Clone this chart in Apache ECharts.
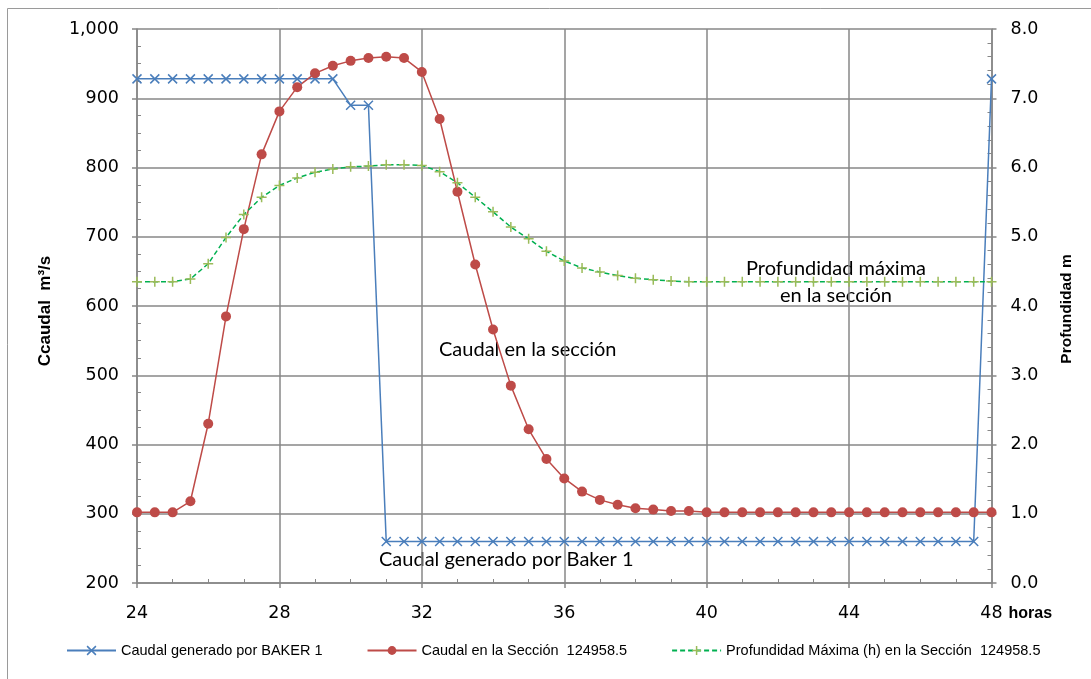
<!DOCTYPE html>
<html><head><meta charset="utf-8">
<script src="https://cdn.jsdelivr.net/npm/echarts@6/dist/echarts.min.js"></script>
<style>html,body{margin:0;padding:0;background:#fff}#c{width:1091px;height:679px}</style>
</head><body><div id="c"></div>
<script>
// ---- data ----
const hours = [24,24.5,25,25.5,26,26.5,27,27.5,28,28.5,29,29.5,30,30.5,31,31.5,32,32.5,33,33.5,34,34.5,35,35.5,36,36.5,37,37.5,38,38.5,39,39.5,40,40.5,41,41.5,42,42.5,43,43.5,44,44.5,45,45.5,46,46.5,47,47.5,48];
const bakerFlow = [928,928,928,928,928,928,928,928,928,928,928,928,890,890,260,260,260,260,260,260,260,260,260,260,260,260,260,260,260,260,260,260,260,260,260,260,260,260,260,260,260,260,260,260,260,260,260,260,928];
const sectionFlow = [302,302,302,318,430,585,711,819,881,916,936,947,954,958,960,958,938,870,765,660,566,485,422,379,351,332,320,313,308,306,304,304,302,302,302,302,302,302,302,302,302,302,302,302,302,302,302,302,302];
const sectionDepth = [4.35,4.35,4.35,4.39,4.61,4.99,5.32,5.57,5.74,5.85,5.93,5.98,6.01,6.02,6.04,6.04,6.03,5.94,5.78,5.57,5.36,5.14,4.97,4.79,4.65,4.55,4.49,4.44,4.40,4.38,4.36,4.35,4.35,4.35,4.35,4.35,4.35,4.35,4.35,4.35,4.35,4.35,4.35,4.35,4.35,4.35,4.35,4.35,4.35];
const seriesNames = ['Caudal generado por BAKER 1','Caudal en la Sección  124958.5','Profundidad Máxima (h) en la Sección  124958.5'];
const xRange = [24, 48, 4];        // min, max, interval (hours)
const flowRange = [200, 1000, 100]; // m3/s
const depthRange = [0, 8, 1];       // m
const annotations = ['Profundidad máxima\nen la sección', 'Caudal en la sección', 'Caudal generado por Baker 1'];

// ---- helpers ----
function fitSize(text, family, weight, target) {
  const ctx = document.createElement('canvas').getContext('2d');
  ctx.font = weight + ' 100px ' + family;
  return Math.round(target * 100 / ctx.measureText(text).width * 10) / 10;
}
const annFont = 'Lato';
const annSize = fitSize('Caudal generado por Baker 1', annFont, 'normal', 254);

const X_PATH = 'path://M0,0L10,10M10,0L0,10';
const PLUS_PATH = 'path://M5,0L5,10M0,5L10,5';
const BLUE = '#4A7EBB', RED = '#BE4B48', GREEN_LINE = '#00B050', GREEN_MK = '#9BBB59';
const GRID = '#878787';
const tickFont = {fontFamily: 'DejaVu Sans', fontSize: 17.5, color: '#000'};

const chart = echarts.init(document.getElementById('c'), null, {renderer: 'canvas'});
chart.setOption({
  animation: false,
  backgroundColor: '#fff',
  grid: {left: 137, top: 29, right: 99.5, bottom: 96},
  xAxis: {
    type: 'value', min: xRange[0], max: xRange[1], interval: xRange[2],
    name: 'horas', nameLocation: 'end', nameGap: 17,
    nameTextStyle: {fontFamily: 'Liberation Sans', fontWeight: 'bold', fontSize: 16, color: '#000', verticalAlign: 'top', padding: [23, 0, 0, 0]},
    axisLine: {show: true, onZero: false, lineStyle: {color: GRID, width: 1.5}},
    axisTick: {show: true, length: 5, lineStyle: {color: GRID, width: 1.5}},
    minorTick: {show: true, splitNumber: 4, length: -4, lineStyle: {color: GRID, width: 1}},
    axisLabel: Object.assign({margin: 21}, tickFont),
    splitLine: {show: true, lineStyle: {color: GRID, width: 1.5}}
  },
  yAxis: [{
    type: 'value', min: flowRange[0], max: flowRange[1], interval: flowRange[2], position: 'left',
    name: 'Ccaudal  m³/s', nameLocation: 'middle', nameGap: 83, nameRotate: 90,
    nameTextStyle: {fontFamily: 'Liberation Sans', fontWeight: 'bold', fontSize: 17, color: '#000', padding: [0, 10, 0, 0]},
    axisLine: {show: true, lineStyle: {color: GRID, width: 1.5}},
    axisTick: {show: true, length: 5, lineStyle: {color: GRID, width: 1.5}},
    minorTick: {show: true, splitNumber: 4, length: -4, lineStyle: {color: GRID, width: 1}},
    axisLabel: Object.assign({margin: 18, formatter: v => v.toLocaleString('en-US')}, tickFont),
    splitLine: {show: true, lineStyle: {color: GRID, width: 1.5}}
  }, {
    type: 'value', min: depthRange[0], max: depthRange[1], interval: depthRange[2], position: 'right',
    name: 'Profundidad m', nameLocation: 'middle', nameGap: 67, nameRotate: 90,
    nameTextStyle: {fontFamily: 'Liberation Sans', fontWeight: 'bold', fontSize: 15.5, color: '#000', padding: [0, 6, 0, 0]},
    axisLine: {show: true, lineStyle: {color: GRID, width: 1.5}},
    axisTick: {show: true, length: 5, lineStyle: {color: GRID, width: 1.5}},
    minorTick: {show: true, splitNumber: 5, length: -4, lineStyle: {color: GRID, width: 1}},
    axisLabel: Object.assign({margin: 19, formatter: v => v.toFixed(1)}, tickFont),
    splitLine: {show: false}
  }],
  legend: {
    left: 61, top: 638, itemWidth: 49, itemHeight: 11, itemGap: 44,
    textStyle: {fontFamily: 'Liberation Sans', fontSize: 14.5, color: '#000'},
    data: [
      {name: seriesNames[0], itemStyle: {color: BLUE, borderColor: BLUE, borderWidth: 1.5}},
      {name: seriesNames[1], itemStyle: {color: RED, borderColor: RED, borderWidth: 0}},
      {name: seriesNames[2], itemStyle: {color: GREEN_MK, borderColor: GREEN_MK, borderWidth: 1.5}}
    ]
  },
  series: [{
    name: seriesNames[0], type: 'line', yAxisIndex: 0,
    data: hours.map((h, i) => [h, bakerFlow[i]]),
    symbol: X_PATH, symbolSize: 9, showAllSymbol: true,
    lineStyle: {color: BLUE, width: 1.5},
    itemStyle: {color: BLUE, borderColor: BLUE, borderWidth: 1.5}
  }, {
    name: seriesNames[1], type: 'line', yAxisIndex: 0,
    data: hours.map((h, i) => [h, sectionFlow[i]]),
    symbol: 'circle', symbolSize: 10, showAllSymbol: true,
    lineStyle: {color: RED, width: 1.5},
    itemStyle: {color: RED}
  }, {
    name: seriesNames[2], type: 'line', yAxisIndex: 1,
    data: hours.map((h, i) => [h, sectionDepth[i]]),
    symbol: PLUS_PATH, symbolSize: 10, showAllSymbol: true,
    lineStyle: {color: GREEN_LINE, width: 1.5, type: [5, 3]},
    itemStyle: {color: GREEN_MK, borderColor: GREEN_MK, borderWidth: 1.5}
  }],
  graphic: [
    {type: 'rect', silent: true, z: -10, shape: {x: 7.5, y: 8.5, width: 1300, height: 900}, style: {fill: 'none', stroke: '#9a9a9a', lineWidth: 1}},
    {type: 'text', silent: true, x: 836, y: 282, style: {text: annotations[0], font: annSize + 'px ' + annFont, fill: '#000', align: 'center', verticalAlign: 'middle', lineHeight: 27}},
    {type: 'text', silent: true, x: 439, y: 350, style: {text: annotations[1], font: annSize + 'px ' + annFont, fill: '#000', align: 'left', verticalAlign: 'middle'}},
    {type: 'text', silent: true, x: 379, y: 560, style: {text: annotations[2], font: annSize + 'px ' + annFont, fill: '#000', align: 'left', verticalAlign: 'middle'}}
  ]
});
</script>
</body></html>
